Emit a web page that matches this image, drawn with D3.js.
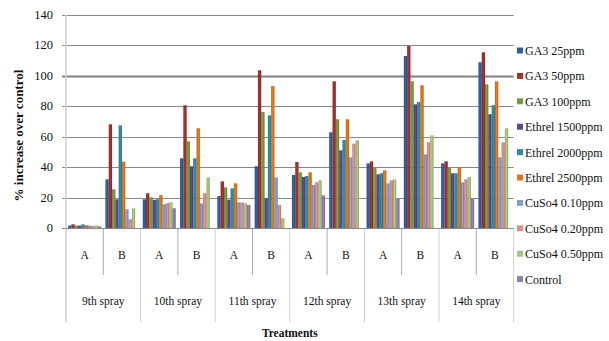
<!DOCTYPE html>
<html>
<head>
<meta charset="utf-8">
<script src="https://cdn.jsdelivr.net/npm/d3@7"></script>
<style>
  body { margin: 0; background: #fff; }
</style>
</head>
<body>
<div id="chart"></div>
<script>
// categories
const sprays = ["9th spray", "10th spray", "11th spray", "12th spray", "13th spray", "14th spray"];
const parts = ["A", "B"];
const seriesNames = ["GA3 25ppm", "GA3 50ppm", "GA3 100ppm", "Ethrel 1500ppm", "Ethrel 2000ppm",
    "Ethrel 2500ppm", "CuSo4 0.10ppm", "CuSo4 0.20ppm", "CuSo4 0.50ppm", "Control"];
const yTicks = [0, 20, 40, 60, 80, 100, 120, 140];

// values, one per group: 9A, 9B, 10A, 10B, ... 14A, 14B
const ga3_25 = [1.8, 32.1, 19.0, 45.9, 21.2, 40.7, 35.0, 63.0, 42.6, 113.0, 42.6, 108.9];
const ga3_50 = [2.6, 68.2, 23.0, 80.7, 30.8, 103.6, 43.5, 96.4, 43.9, 119.6, 43.9, 115.4];
const ga3_100 = [1.8, 25.6, 20.4, 57.0, 26.9, 76.3, 36.7, 71.5, 39.6, 96.4, 40.0, 94.4];
const ethrel_1500 = [1.8, 19.0, 18.7, 40.7, 18.8, 19.7, 33.7, 51.1, 35.4, 81.3, 36.1, 74.8];
const ethrel_2000 = [2.6, 67.5, 19.1, 45.9, 26.2, 74.1, 34.3, 57.9, 36.1, 82.8, 36.1, 80.7];
const ethrel_2500 = [2.0, 43.7, 21.8, 65.6, 29.5, 93.3, 36.7, 71.5, 38.0, 93.8, 40.0, 96.4];
const cuso4_010 = [1.8, 12.5, 15.8, 16.4, 17.0, 33.4, 28.4, 46.6, 29.5, 48.5, 30.2, 46.6];
const cuso4_020 = [1.5, 5.9, 16.5, 23.0, 17.0, 15.3, 30.2, 55.5, 31.5, 56.4, 32.1, 56.4];
const cuso4_050 = [1.8, 13.1, 17.1, 33.4, 16.4, 6.6, 31.5, 57.7, 32.1, 61.0, 33.7, 65.6];
const control = [1.3, null, 13.2, null, 15.3, null, 21.6, null, 19.7, null, 19.7, null];

const seriesValues = [ga3_25, ga3_50, ga3_100, ethrel_1500, ethrel_2000,
    ethrel_2500, cuso4_010, cuso4_020, cuso4_050, control];
const colors = ["#2f5f9f", "#a2302d", "#7a9a3e", "#5d4888", "#2f8ba6",
    "#e4741a", "#7f9fd0", "#d98e8c", "#a8c57e", "#8e7fae"];

const W = 609, H = 341;
const plot = { left: 66, right: 513.6, top: 14.8, bottom: 228.3 };
const serif = "'Liberation Serif', 'DejaVu Serif', serif";

const groups = sprays.flatMap(s => parts.map(p => s + "|" + p));

const x0 = d3.scaleBand()
    .domain(groups)
    .range([plot.left, plot.right])
    .paddingInner(0)
    .paddingOuter(0);

const x1 = d3.scaleBand()
    .domain(seriesNames)
    .range([0, x0.bandwidth()])
    .paddingInner(0)
    .paddingOuter(0.65);

const y = d3.scaleLinear()
    .domain([0, 140])
    .range([plot.bottom, plot.top]);

const svg = d3.select("#chart").append("svg")
    .attr("width", W)
    .attr("height", H)
    .attr("font-family", serif)
    .attr("fill", "#111");

// gradients for the bevelled bar look
const defs = svg.append("defs");
colors.forEach((c, i) => {
    const g = defs.append("linearGradient")
        .attr("id", "grad" + i)
        .attr("x1", "0%").attr("x2", "100%").attr("y1", "0%").attr("y2", "0%");
    g.append("stop").attr("offset", "0%").attr("stop-color", d3.color(c).darker(0.5));
    g.append("stop").attr("offset", "45%").attr("stop-color", d3.color(c).brighter(0.15));
    g.append("stop").attr("offset", "100%").attr("stop-color", d3.color(c).darker(0.6));
});

// gridlines
svg.append("g")
    .selectAll("line")
    .data(yTicks)
    .join("line")
    .attr("x1", plot.left - 4)
    .attr("x2", plot.right)
    .attr("y1", d => Math.round(y(d)) + 0.5)
    .attr("y2", d => Math.round(y(d)) + 0.5)
    .attr("stroke", d => d === 100 ? "#808080" : "#8a8a8a")
    .attr("stroke-width", d => d === 100 ? 2.2 : 1);

// y tick labels
svg.append("g")
    .selectAll("text")
    .data(yTicks)
    .join("text")
    .attr("x", 53)
    .attr("y", d => y(d) + 4)
    .attr("text-anchor", "end")
    .attr("font-family", serif)
    .attr("font-size", 12.5)
    .text(d => d);

// left axis line
svg.append("line")
    .attr("x1", plot.left).attr("x2", plot.left)
    .attr("y1", plot.top).attr("y2", 322)
    .attr("stroke", "#cfcfcf")
    .attr("stroke-width", 1.5);

// category separators
const bounds = d3.range(1, groups.length + 1);
svg.append("g")
    .selectAll("line")
    .data(bounds)
    .join("line")
    .attr("x1", i => x0.step() * i + plot.left)
    .attr("x2", i => x0.step() * i + plot.left)
    .attr("y1", plot.bottom)
    .attr("y2", i => i % 2 === 0 ? 322 : 275)
    .attr("stroke", i => i % 2 === 0 ? "#cfcfcf" : "#a8a8a8")
    .attr("stroke-width", 1);

// bars
const barData = [];
groups.forEach((g, gi) => {
    seriesNames.forEach((s, si) => {
        const v = seriesValues[si][gi];
        if (v != null) barData.push({ group: g, series: s, si, value: v });
    });
});

svg.append("g")
    .selectAll("rect")
    .data(barData)
    .join("rect")
    .attr("x", d => x0(d.group) + x1(d.series))
    .attr("y", d => y(d.value))
    .attr("width", x1.bandwidth())
    .attr("height", d => y(0) - y(d.value))
    .attr("fill", d => `url(#grad${d.si})`);

// baseline
svg.append("line")
    .attr("x1", plot.left).attr("x2", plot.right)
    .attr("y1", Math.round(y(0)) + 0.5).attr("y2", Math.round(y(0)) + 0.5)
    .attr("stroke", "#8a8a8a");

// A / B labels
svg.append("g")
    .selectAll("text")
    .data(groups)
    .join("text")
    .attr("x", d => x0(d) + x0.bandwidth() / 2)
    .attr("y", 259)
    .attr("text-anchor", "middle")
    .attr("font-family", serif)
    .attr("font-size", 11.5)
    .text(d => d.split("|")[1]);

// spray labels
svg.append("g")
    .selectAll("text")
    .data(sprays)
    .join("text")
    .attr("x", d => x0(d + "|A") + x0.bandwidth())
    .attr("y", 305)
    .attr("text-anchor", "middle")
    .attr("font-family", serif)
    .attr("font-size", 11.5)
    .text(d => d);

// axis titles
svg.append("text")
    .attr("x", (plot.left + plot.right) / 2)
    .attr("y", 337)
    .attr("text-anchor", "middle")
    .attr("font-family", serif)
    .attr("font-size", 11.5)
    .attr("font-weight", "bold")
    .text("Treatments");

svg.append("text")
    .attr("transform", `translate(23, ${(plot.top + plot.bottom) / 2 + 14}) rotate(-90)`)
    .attr("text-anchor", "middle")
    .attr("font-family", serif)
    .attr("font-size", 13)
    .attr("font-weight", "bold")
    .text("% increase over control");

// legend
const legend = svg.append("g")
    .selectAll("g")
    .data(seriesNames)
    .join("g")
    .attr("transform", (d, i) => `translate(517, ${51 + i * 25.4})`);

legend.append("rect")
    .attr("x", 0).attr("y", -3.5)
    .attr("width", 6).attr("height", 6)
    .attr("fill", (d, i) => colors[i]);

legend.append("text")
    .attr("x", 8)
    .attr("y", 4)
    .attr("font-family", serif)
    .attr("font-size", 12)
    .text(d => d);
</script>
</body>
</html>
